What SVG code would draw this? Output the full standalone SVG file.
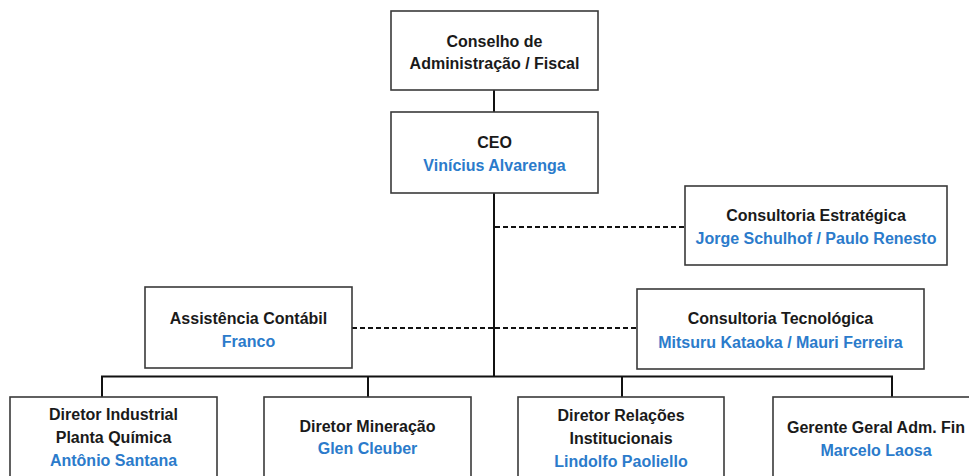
<svg xmlns="http://www.w3.org/2000/svg" width="969" height="476" viewBox="0 0 969 476">
<style>
.box{fill:#fff;stroke:#3a3a3a;stroke-width:1.6}
.t{font-family:"Liberation Sans",Arial,sans-serif;font-weight:bold;font-size:16px;text-anchor:middle;fill:#1a1a1a}
.b{fill:#2b7bcb}
.ln{stroke:#111;stroke-width:2;fill:none}
.dash{stroke:#111;stroke-width:2;fill:none;stroke-dasharray:5 3}
</style>
<rect width="969" height="476" fill="#fff"/>
<g id="connectors">
<line class="ln" x1="494" y1="90" x2="494" y2="112"/>
<line class="ln" x1="494" y1="193" x2="494" y2="377"/>
<line class="ln" x1="101" y1="376.5" x2="893" y2="376.5"/>
<line class="ln" x1="102" y1="376" x2="102" y2="397"/>
<line class="ln" x1="368" y1="376" x2="368" y2="397"/>
<line class="ln" x1="622" y1="376" x2="622" y2="397"/>
<line class="ln" x1="892" y1="376" x2="892" y2="397"/>
<line class="dash" x1="495" y1="227" x2="685" y2="227"/>
<line class="dash" x1="495" y1="328" x2="637" y2="328"/>
<line class="dash" x1="352" y1="328" x2="493" y2="328"/>
</g>
<g id="conselho">
<rect class="box" x="391" y="11" width="207" height="79"/>
<text class="t" x="494.5" y="47">Conselho de</text>
<text class="t" x="494.5" y="69">Administração / Fiscal</text>
</g>
<g id="ceo">
<rect class="box" x="391" y="112" width="207" height="81"/>
<text class="t" x="494.5" y="148">CEO</text>
<text class="t b" x="494.5" y="171">Vinícius Alvarenga</text>
</g>
<g id="consultoria-estrategica">
<rect class="box" x="685" y="186" width="262" height="79"/>
<text class="t" x="816" y="221">Consultoria Estratégica</text>
<text class="t b" x="816" y="244">Jorge Schulhof / Paulo Renesto</text>
</g>
<g id="consultoria-tecnologica">
<rect class="box" x="637" y="289" width="287" height="80"/>
<text class="t" x="780.5" y="324">Consultoria Tecnológica</text>
<text class="t b" x="780.5" y="348">Mitsuru Kataoka / Mauri Ferreira</text>
</g>
<g id="assistencia-contabil">
<rect class="box" x="145" y="287" width="207" height="81"/>
<text class="t" x="248.5" y="324">Assistência Contábil</text>
<text class="t b" x="248.5" y="347">Franco</text>
</g>
<g id="diretor-industrial">
<rect class="box" x="10" y="397" width="207" height="85"/>
<text class="t" x="113.5" y="420">Diretor Industrial</text>
<text class="t" x="113.5" y="443">Planta Química</text>
<text class="t b" x="113.5" y="466">Antônio Santana</text>
</g>
<g id="diretor-mineracao">
<rect class="box" x="264" y="397" width="207" height="85"/>
<text class="t" x="367.5" y="432">Diretor Mineração</text>
<text class="t b" x="367.5" y="454">Glen Cleuber</text>
</g>
<g id="diretor-relacoes">
<rect class="box" x="518" y="397" width="206" height="85"/>
<text class="t" x="621" y="421">Diretor Relações</text>
<text class="t" x="621" y="444">Institucionais</text>
<text class="t b" x="621" y="467">Lindolfo Paoliello</text>
</g>
<g id="gerente-geral">
<rect class="box" x="773" y="397" width="207" height="85"/>
<text class="t" x="876" y="433">Gerente Geral Adm. Fin</text>
<text class="t b" x="876" y="456">Marcelo Laosa</text>
</g>
</svg>
